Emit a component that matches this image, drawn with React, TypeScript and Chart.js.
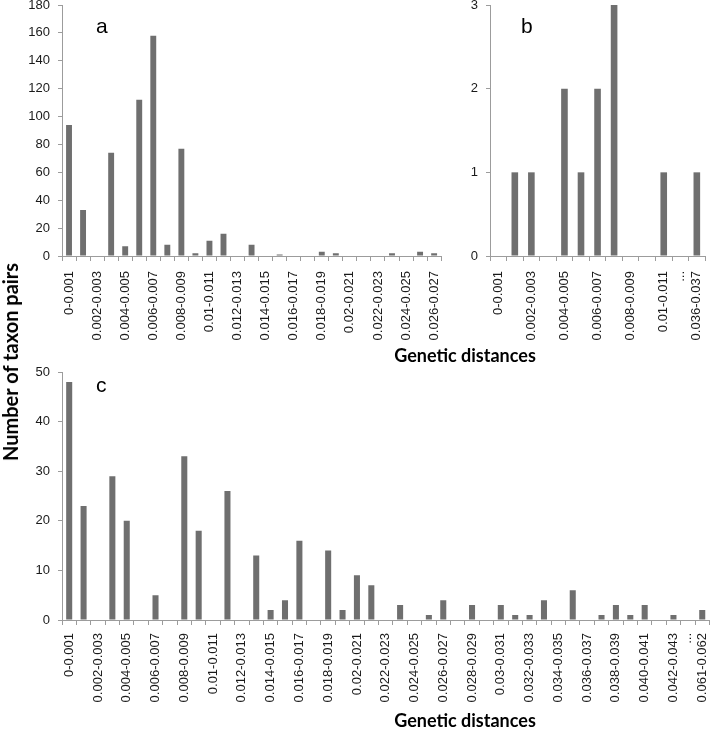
import React, { useEffect, useRef } from "react";
import { Chart, registerables } from "chart.js";

Chart.register(...registerables);

// ---------- data ----------
const aCategories = [
  "0-0.001", "0.001-0.002", "0.002-0.003", "0.003-0.004", "0.004-0.005",
  "0.005-0.006", "0.006-0.007", "0.007-0.008", "0.008-0.009", "0.009-0.01",
  "0.01-0.011", "0.011-0.012", "0.012-0.013", "0.013-0.014", "0.014-0.015",
  "0.015-0.016", "0.016-0.017", "0.017-0.018", "0.018-0.019", "0.019-0.02",
  "0.02-0.021", "0.021-0.022", "0.022-0.023", "0.023-0.024", "0.024-0.025",
  "0.025-0.026", "0.026-0.027",
];
const aCounts = [94, 33, 0, 74, 7, 112, 158, 8, 77, 2, 11, 16, 0, 8, 0, 1, 0, 0, 3, 2, 0, 0, 0, 2, 0, 3, 2];
const aYMax = 180;
const aYStep = 20;

const bCategories = [
  "0-0.001", "0.001-0.002", "0.002-0.003", "0.003-0.004", "0.004-0.005",
  "0.005-0.006", "0.006-0.007", "0.007-0.008", "0.008-0.009", "0.009-0.01",
  "0.01-0.011", "...", "0.036-0.037",
];
const bCounts = [0, 1, 1, 0, 2, 1, 2, 3, 0, 0, 1, 0, 1];
const bYMax = 3;
const bYStep = 1;

const cCategories = [
  "0-0.001", "0.001-0.002", "0.002-0.003", "0.003-0.004", "0.004-0.005",
  "0.005-0.006", "0.006-0.007", "0.007-0.008", "0.008-0.009", "0.009-0.01",
  "0.01-0.011", "0.011-0.012", "0.012-0.013", "0.013-0.014", "0.014-0.015",
  "0.015-0.016", "0.016-0.017", "0.017-0.018", "0.018-0.019", "0.019-0.02",
  "0.02-0.021", "0.021-0.022", "0.022-0.023", "0.023-0.024", "0.024-0.025",
  "0.025-0.026", "0.026-0.027", "0.027-0.028", "0.028-0.029", "0.029-0.03",
  "0.03-0.031", "0.031-0.032", "0.032-0.033", "0.033-0.034", "0.034-0.035",
  "0.035-0.036", "0.036-0.037", "0.037-0.038", "0.038-0.039", "0.039-0.04",
  "0.040-0.041", "0.041-0.042", "0.042-0.043", "...", "0.061-0.062",
];
const cCounts = [
  48, 23, 0, 29, 20, 0, 5, 0, 33, 18,
  0, 26, 0, 13, 2, 4, 16, 0, 14, 2,
  9, 7, 0, 3, 0, 1, 4, 0, 3, 0,
  3, 1, 1, 4, 0, 6, 0, 1, 3, 1,
  3, 0, 1, 0, 2,
];
const cYMax = 50;
const cYStep = 10;

const yTitle = "Number of taxon pairs";
const xTitle = "Genetic distances";

// ---------- styles ----------
const BAR_COLOR = "#6f6f6f";
const AXIS_COLOR = "#9c9c9c";
const TEXT_COLOR = "#1a1a1a";
const TICK_FONT = { family: "'Liberation Sans', Arial, sans-serif", size: 13 };

type PanelProps = {
  categories: string[];
  values: number[];
  yMax: number;
  yStep: number;
  left: number;
  top: number;
  width: number;
  height: number;
  yAxisWidth: number;
  xAxisHeight: number;
  barPct: number;
  xPad: number;
};

function BarPanel(p: PanelProps) {
  const ref = useRef<HTMLCanvasElement | null>(null);
  useEffect(() => {
    if (!ref.current) return;
    const chart = new Chart(ref.current, {
      type: "bar",
      data: {
        labels: p.categories,
        datasets: [
          {
            data: p.values,
            backgroundColor: BAR_COLOR,
            borderWidth: 0,
            barPercentage: p.barPct,
            categoryPercentage: 1,
          },
        ],
      },
      options: {
        responsive: false,
        animation: false,
        devicePixelRatio: 1,
        layout: { padding: { top: 20, right: 15, left: 0, bottom: 0 } },
        plugins: { legend: { display: false }, tooltip: { enabled: false }, title: { display: false } },
        scales: {
          x: {
            grid: {
              display: true,
              drawOnChartArea: false,
              drawTicks: true,
              tickLength: 5,
              color: AXIS_COLOR,
              offset: true,
            },
            border: { display: true, color: AXIS_COLOR, width: 1 },
            ticks: {
              autoSkip: false,
              maxRotation: 90,
              minRotation: 90,
              padding: p.xPad,
              color: TEXT_COLOR,
              font: TICK_FONT,
              callback: (_v: any, i: number) => {
                const c = p.categories[i];
                return i % 2 === 0 || c === "..." ? c : "";
              },
            },
            afterFit: (s: any) => {
              s.height = p.xAxisHeight;
            },
          },
          y: {
            min: 0,
            max: p.yMax,
            grid: {
              display: true,
              drawOnChartArea: false,
              drawTicks: true,
              tickLength: 4,
              color: AXIS_COLOR,
            },
            border: { display: true, color: AXIS_COLOR, width: 1 },
            ticks: {
              stepSize: p.yStep,
              padding: 8,
              color: TEXT_COLOR,
              font: TICK_FONT,
            },
            afterFit: (s: any) => {
              s.width = p.yAxisWidth;
            },
          },
        },
      } as any,
    });
    return () => chart.destroy();
  }, []);
  return (
    <canvas
      ref={ref}
      width={p.width}
      height={p.height}
      style={{ position: "absolute", left: p.left, top: p.top, width: p.width, height: p.height }}
    />
  );
}

const letterStyle: React.CSSProperties = {
  position: "absolute",
  fontFamily: "'Liberation Sans', Arial, sans-serif",
  fontSize: 21,
  lineHeight: 1,
  color: "#000",
  whiteSpace: "nowrap",
};

const titleStyle: React.CSSProperties = {
  position: "absolute",
  fontFamily: "Lato, 'Open Sans', sans-serif",
  fontWeight: 700,
  fontSize: 18,
  lineHeight: 1,
  color: "#000",
  whiteSpace: "nowrap",
};

export default function App() {
  return (
    <div
      style={{
        position: "absolute",
        left: 0,
        top: 0,
        width: 712,
        height: 730,
        overflow: "hidden",
        background: "#fff",
      }}
    >
      <BarPanel
        categories={aCategories}
        values={aCounts}
        yMax={aYMax}
        yStep={aYStep}
        left={0}
        top={-15}
        width={460}
        height={360}
        yAxisWidth={62}
        xAxisHeight={89}
        barPct={0.42}
        xPad={10}
      />
      <BarPanel
        categories={bCategories}
        values={bCounts}
        yMax={bYMax}
        yStep={bYStep}
        left={430}
        top={-15}
        width={293}
        height={360}
        yAxisWidth={60}
        xAxisHeight={89}
        barPct={0.4}
        xPad={10}
      />
      <BarPanel
        categories={cCategories}
        values={cCounts}
        yMax={cYMax}
        yStep={cYStep}
        left={0}
        top={352}
        width={726}
        height={360}
        yAxisWidth={62}
        xAxisHeight={92}
        barPct={0.42}
        xPad={8}
      />
      <div style={{ ...letterStyle, left: 96, top: 15 }}>a</div>
      <div style={{ ...letterStyle, left: 521, top: 15 }}>b</div>
      <div style={{ ...letterStyle, left: 96, top: 374 }}>c</div>
      <div style={{ ...titleStyle, left: 465, top: 346, transform: "translateX(-50%)" }}>{xTitle}</div>
      <div style={{ ...titleStyle, left: 465, top: 711, transform: "translateX(-50%)" }}>{xTitle}</div>
      <div
        style={{
          ...titleStyle,
          fontSize: 20,
          left: 10,
          top: 362,
          transform: "translate(-50%, -50%) rotate(-90deg)",
        }}
      >
        {yTitle}
      </div>
    </div>
  );
}
